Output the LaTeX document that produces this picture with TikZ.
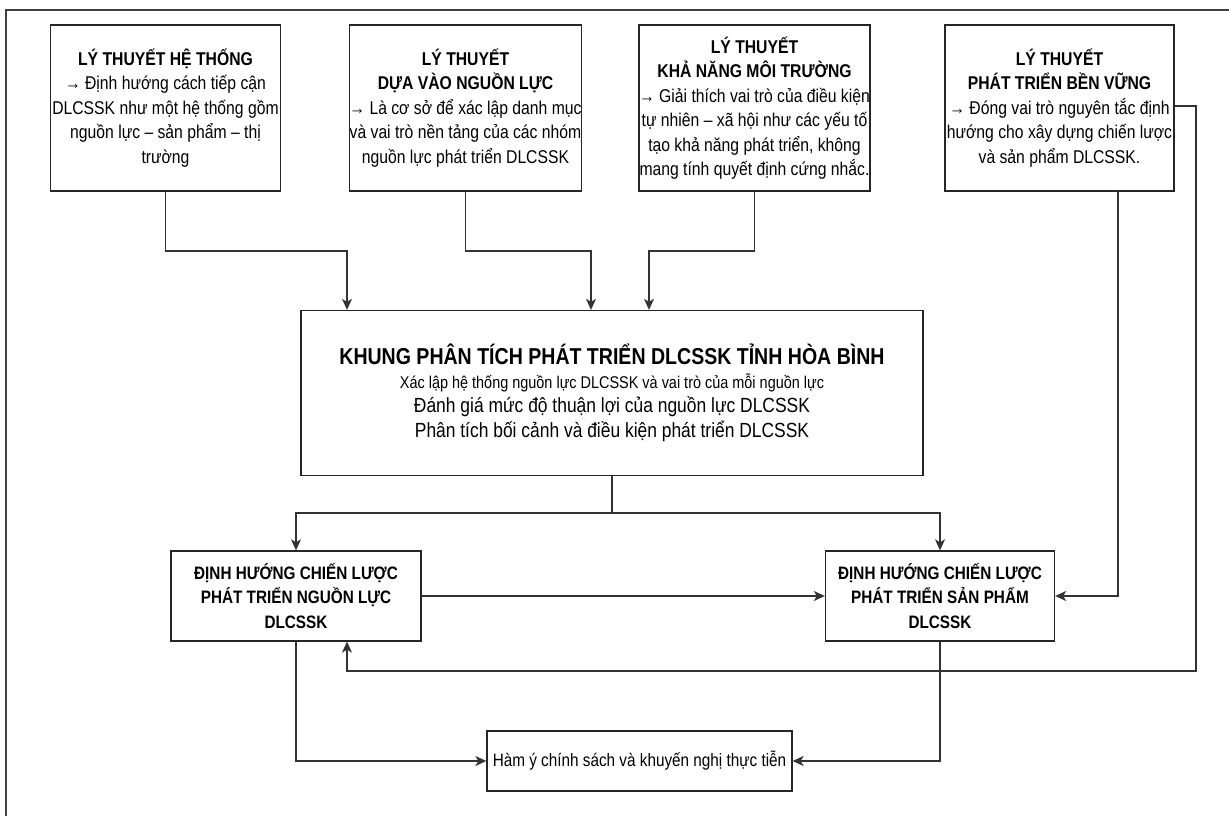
\documentclass[tikz,border=0pt]{standalone}
\usepackage{fontspec}
\setmainfont{Liberation Sans}[FakeStretch=0.85]
\usetikzlibrary{arrows.meta,calc}
\tikzset{
  box/.style={draw=black!85, line width=1.3pt, rectangle, align=center, inner sep=0pt,
    font=\fontsize{18.5}{24.5}\selectfont},
  conn/.style={draw=black!80, line width=1.3pt},
  arr/.style={conn, -{Stealth[length=11pt,width=10pt,inset=3pt]}},
}
\begin{document}
\begin{tikzpicture}[x=1pt,y=-1pt]
\useasboundingbox (0,0) rectangle (1229,816);
\fill[white] (0,0) rectangle (1229,816);
% outer frame
\draw[black!75, line width=1.2pt] (6,816) -- (6,10) -- (1229,10);

% top theory boxes
\node[box, minimum width=230, minimum height=166] (b1) at (165.5,108) {%
\textbf{LÝ THUYẾT HỆ THỐNG}\\ → Định hướng cách tiếp cận\\ DLCSSK như một hệ thống gồm\\ nguồn lực – sản phẩm – thị\\ trường};
\node[box, minimum width=229, minimum height=166] (b2) at (465.5,108) {%
\textbf{LÝ THUYẾT}\\ \textbf{DỰA VÀO NGUỒN LỰC}\\ → Là cơ sở để xác lập danh mục\\ và vai trò nền tảng của các nhóm\\ nguồn lực phát triển DLCSSK};
\node[box, minimum width=230, minimum height=166] (b3) at (754.5,108) {%
\textbf{LÝ THUYẾT}\\ \textbf{KHẢ NĂNG MÔI TRƯỜNG}\\ → Giải thích vai trò của điều kiện\\ tự nhiên – xã hội như các yếu tố\\ tạo khả năng phát triển, không\\ mang tính quyết định cứng nhắc.};
\node[box, minimum width=229, minimum height=166] (b4) at (1059.5,108) {%
\textbf{LÝ THUYẾT}\\ \textbf{PHÁT TRIỂN BỀN VỮNG}\\ → Đóng vai trò nguyên tắc định\\ hướng cho xây dựng chiến lược\\ và sản phẩm DLCSSK.};

% main box
\node[box, minimum width=622, minimum height=165] (main) at (612,393) {%
{\fontsize{23}{28}\selectfont\bfseries KHUNG PHÂN TÍCH PHÁT TRIỂN DLCSSK TỈNH HÒA BÌNH}\\[-1pt]
{\fontsize{17}{28}\selectfont Xác lập hệ thống nguồn lực DLCSSK và vai trò của mỗi nguồn lực}\\
{\fontsize{20.5}{28}\selectfont Đánh giá mức độ thuận lợi của nguồn lực DLCSSK}\\
{\fontsize{20.5}{28}\selectfont Phân tích bối cảnh và điều kiện phát triển DLCSSK}};

% strategy boxes
\node[box, minimum width=250, minimum height=90, font=\fontsize{18}{24.5}\selectfont\bfseries] (s1) at (296,596) {%
ĐỊNH HƯỚNG CHIẾN LƯỢC\\ PHÁT TRIỂN NGUỒN LỰC\\ DLCSSK};
\node[box, minimum width=229, minimum height=90, font=\fontsize{18}{24.5}\selectfont\bfseries] (s2) at (940,596) {%
ĐỊNH HƯỚNG CHIẾN LƯỢC\\ PHÁT TRIỂN SẢN PHẨM\\ DLCSSK};

% policy box
\node[box, minimum width=305, minimum height=60, font=\fontsize{18}{24.5}\selectfont] (pol) at (639.5,761) {%
Hàm ý chính sách và khuyến nghị thực tiễn};

% junction coordinates
\coordinate (j1) at (347,251);
\coordinate (j2) at (591,251);
\coordinate (j3) at (649,251);
\coordinate (split) at (612,513);
\coordinate (b4d) at (1118,191);
\coordinate (fb1) at (1196,106);
\coordinate (fb2) at (1196,671);
\coordinate (fb3) at (347,671);

% theory -> main
\draw[arr] (b1.south) |- (j1) -- (j1 |- main.north);
\draw[arr] (b2.south) |- (j2) -- (j2 |- main.north);
\draw[arr] (b3.south) |- (j3) -- (j3 |- main.north);

% main -> strategies
\draw[conn] (main.south) -- (split);
\draw[arr] (split) -| (s1.north);
\draw[arr] (split) -| (s2.north);

% s1 -> s2
\draw[arr] (s1.east) -- (s2.west);

% b4 -> s2
\draw[arr] (b4d) |- (s2.east);

% b4 -> feedback -> s1
\draw[arr] (b4.east |- fb1) -- (fb1) -- (fb2) -- (fb3) -- (fb3 |- s1.south);

% strategies -> policy
\draw[arr] (s1.south) |- (pol.west);
\draw[arr] (s2.south) |- (pol.east);
\end{tikzpicture}
\end{document}
